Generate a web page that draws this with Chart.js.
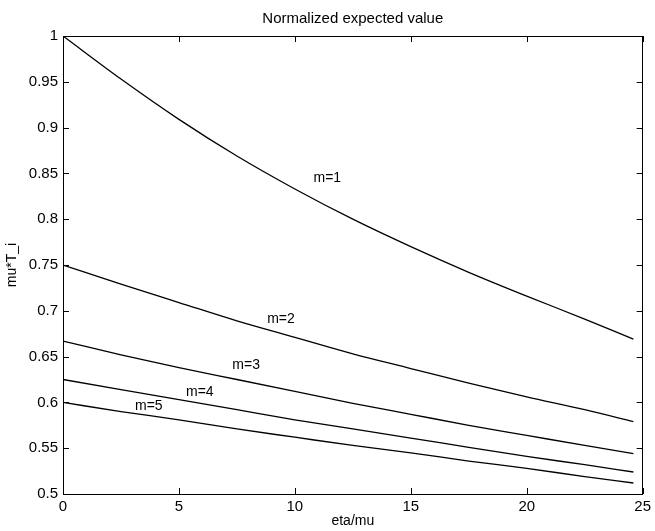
<!DOCTYPE html>
<html>
<head>
<meta charset="utf-8">
<script src="https://cdn.jsdelivr.net/npm/chart.js@4.4.0/dist/chart.umd.min.js"></script>
<style>
  html, body { margin: 0; padding: 0; background: #fff; }
  canvas { display: block; }
</style>
</head>
<body>
<canvas id="c" width="655" height="531"></canvas>
<script>
// ---- data ----
const etaOverMu = [0, 2.5, 5, 7.5, 10, 12.5, 15, 17.5, 20, 22.5, 24.6];
const m1 = [1.000, 0.953, 0.909, 0.869, 0.833, 0.800, 0.770, 0.742, 0.716, 0.691, 0.669];
const m2 = [0.750, 0.729, 0.709, 0.689, 0.671, 0.653, 0.637, 0.621, 0.606, 0.592, 0.579];
const m3 = [0.667, 0.652, 0.638, 0.625, 0.612, 0.599, 0.587, 0.575, 0.564, 0.553, 0.544];
const m4 = [0.625, 0.614, 0.603, 0.592, 0.581, 0.571, 0.561, 0.551, 0.541, 0.532, 0.524];
const m5 = [0.600, 0.590, 0.581, 0.571, 0.562, 0.553, 0.545, 0.536, 0.528, 0.519, 0.512];
const seriesNames = ['m=1', 'm=2', 'm=3', 'm=4', 'm=5'];
const xTicks = [0, 5, 10, 15, 20, 25];
const yTicks = [0.5, 0.55, 0.6, 0.65, 0.7, 0.75, 0.8, 0.85, 0.9, 0.95, 1];

// curve label anchors (data units)
const curveLabels = [
  { text: 'm=1', x: 11.4, y: 0.845 },
  { text: 'm=2', x: 9.4,  y: 0.691 },
  { text: 'm=3', x: 7.9,  y: 0.641 },
  { text: 'm=4', x: 5.9,  y: 0.611 },
  { text: 'm=5', x: 3.7,  y: 0.596 }
];

const FONT = '"Liberation Sans", Arial, Helvetica, sans-serif';

const allSeries = [m1, m2, m3, m4, m5];
const datasets = allSeries.map((s, i) => ({
  label: seriesNames[i],
  data: s.map((v, k) => ({ x: etaOverMu[k], y: v })),
  borderColor: '#000',
  borderWidth: 1.3,
  pointRadius: 0,
  fill: false,
  cubicInterpolationMode: 'monotone'
}));

const fmt = v => String(Number(v.toFixed(2)));

const matlabBox = {
  id: 'matlabBox',
  afterDraw(chart) {
    const { ctx, chartArea: a, scales } = chart;
    const xs = scales.x, ys = scales.y;
    const L = 6;
    ctx.save();
    ctx.strokeStyle = '#000';
    ctx.lineWidth = 1;
    ctx.beginPath();
    xTicks.forEach(t => {
      const px = Math.round(xs.getPixelForValue(t)) + 0.5;
      ctx.moveTo(px, a.bottom); ctx.lineTo(px, a.bottom - L);
      ctx.moveTo(px, a.top); ctx.lineTo(px, a.top + L);
    });
    yTicks.forEach(t => {
      const py = Math.round(ys.getPixelForValue(t)) + 0.5;
      ctx.moveTo(a.left, py); ctx.lineTo(a.left + L, py);
      ctx.moveTo(a.right, py); ctx.lineTo(a.right - L, py);
    });
    ctx.stroke();
    ctx.fillStyle = '#000';
    ctx.font = '14px ' + FONT;
    ctx.textAlign = 'center';
    ctx.textBaseline = 'middle';
    curveLabels.forEach(l => {
      ctx.fillText(l.text, xs.getPixelForValue(l.x), ys.getPixelForValue(l.y));
    });
    ctx.restore();
  }
};

new Chart(document.getElementById('c'), {
  type: 'line',
  data: { datasets },
  options: {
    responsive: false,
    animation: false,
    devicePixelRatio: 1,
    layout: { padding: 0 },
    plugins: { legend: { display: false }, title: { display: false }, tooltip: { enabled: false } },
    scales: {
      x: {
        type: 'linear', position: 'bottom', min: 0, max: 25,
        afterBuildTicks: s => { s.ticks = xTicks.map(v => ({ value: v })); },
        ticks: { color: '#000', font: { family: FONT, size: 15 }, padding: 4, maxRotation: 0, callback: v => fmt(v) },
        grid: { display: false, drawTicks: false },
        border: { display: true, color: '#000', width: 1 },
        title: { display: true, text: 'eta/mu', color: '#000', font: { family: FONT, size: 14 }, padding: { top: 0, bottom: 1 } },
        afterFit: s => { s.height = 37; }
      },
      x2: {
        type: 'linear', position: 'top', min: 0, max: 25,
        ticks: { display: false },
        grid: { display: false, drawTicks: false },
        border: { display: true, color: '#000', width: 1 },
        title: { display: true, text: 'Normalized expected value', color: '#000', font: { family: FONT, size: 15 }, padding: { top: 10, bottom: 0 } },
        afterFit: s => { s.height = 36; }
      },
      y: {
        type: 'linear', position: 'left', min: 0.5, max: 1,
        afterBuildTicks: s => { s.ticks = yTicks.map(v => ({ value: v })); },
        ticks: { color: '#000', font: { family: FONT, size: 15 }, padding: 5, callback: v => fmt(v) },
        grid: { display: false, drawTicks: false },
        border: { display: true, color: '#000', width: 1 },
        title: { display: true, text: 'mu*T_i', color: '#000', font: { family: FONT, size: 14 }, padding: { top: 4, bottom: 0 } },
        afterFit: s => { s.width = 63; }
      },
      y2: {
        type: 'linear', position: 'right', min: 0.5, max: 1,
        ticks: { display: false },
        grid: { display: false, drawTicks: false },
        border: { display: true, color: '#000', width: 1 },
        afterFit: s => { s.width = 9; }
      }
    }
  },
  plugins: [matlabBox]
});
</script>
</body>
</html>
